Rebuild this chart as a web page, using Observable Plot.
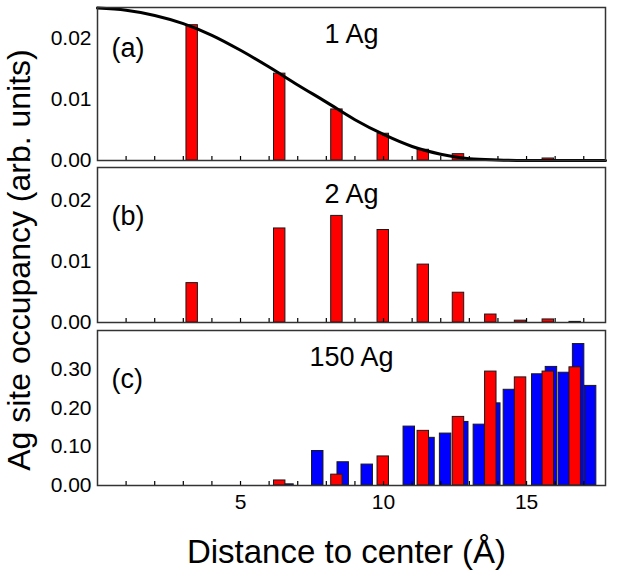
<!DOCTYPE html>
<html><head><meta charset="utf-8">
<script src="https://cdn.jsdelivr.net/npm/d3@7"></script>
<script src="https://cdn.jsdelivr.net/npm/@observablehq/plot@0.6"></script>
<style>
body{margin:0;background:#fff;}
#chart{position:relative;width:623px;height:570px;font-family:"Liberation Sans",Arial,Helvetica,sans-serif;}
#chart svg{position:absolute;left:0;}
</style></head><body><div id="chart"></div>
<script>
// Shell radii (Å) shared by the red bars of all panels
const shellR = [3.31, 6.37, 8.37, 9.99, 11.39, 12.62, 13.75, 14.79, 15.76, 16.70];
// (a) 1 Ag occupancy
const occ1Ag = [0.0222, 0.01425, 0.00838, 0.00439, 0.00176, 0.00104, 0, 0, 0.00033, 0];
// (a) smooth envelope curve
const curveX = [0, 1, 2, 3, 4, 5, 6, 7, 8, 9, 10, 11, 12, 13, 14, 15, 16, 17, 17.76];
const curveY = [0.0250, 0.02465, 0.0238, 0.02246, 0.02054, 0.01808, 0.01533, 0.0124, 0.00958, 0.00669, 0.00427, 0.0023, 0.00104, 0.0003, 0.0001, 0.00002, 0, 0, 0];
// (b) 2 Ag occupancy
const occ2Ag = [0.00643, 0.01535, 0.0174, 0.0151, 0.00945, 0.00486, 0.0013, 0.0003, 0.0005, 0.0001];
// (c) 150 Ag occupancy, red series on shellR
const occ150Red = [0, 0.013, 0.028, 0.075, 0.141, 0.177, 0.294, 0.279, 0.294, 0.305];
// (c) 150 Ag occupancy, blue series
const blueR = [6.66, 7.70, 8.59, 9.43, 10.90, 11.59, 12.17, 12.77, 13.35, 13.89, 14.40, 15.39, 15.87, 16.32, 16.82, 17.24];
const occ150Blue = [0.003, 0.089, 0.060, 0.054, 0.152, 0.123, 0.134, 0.164, 0.157, 0.212, 0.247, 0.287, 0.306, 0.291, 0.365, 0.257];
// tick values
const xMinorTicks = d3.range(1, 18);
const xLabelTicks = [5, 10, 15];
const yTicksSmall = [0, 0.01, 0.02];
const yTicksLarge = [0, 0.1, 0.2, 0.3];
const panelNames = ["1 Ag", "2 Ag", "150 Ag"];
const panelTags = ["(a)", "(b)", "(c)"];
const xTitle = "Distance to center (Å)";
const yTitle = "Ag site occupancy (arb. units)";

const font = '"Liberation Sans", Arial, Helvetica, sans-serif';
const W = 623, ML = 97, MR = 18, xDomain = [0, 17.76], HALF = 0.2;

const toRows = (xs, vs) => xs.map((x, i) => ({x, v: vs[i]})).filter(d => d.v > 0);
const bars = (rows, fill) => Plot.rect(rows, {
  x1: d => d.x - HALF, x2: d => d.x + HALF, y1: 0, y2: "v",
  fill, stroke: "#1a1a1a", strokeWidth: 1
});

const chart = document.getElementById("chart");

function panel({top, height, mt, mb, yMax, yTicks, marks, name, tag, tagDy, xLabels}) {
  const p = Plot.plot({
    width: W, height, marginLeft: ML, marginRight: MR, marginTop: mt, marginBottom: mb,
    style: {background: "transparent", fontFamily: font, overflow: "visible", color: "#000"},
    x: {domain: xDomain},
    y: {domain: [0, yMax]},
    marks: [
      ...marks,
      Plot.axisY({ticks: yTicks, tickSize: 0, tickPadding: 6, tickFormat: d3.format(".2f"), fontSize: 21, label: null}),
      Plot.axisX({ticks: xMinorTicks, tickSize: -4, tickFormat: () => "", label: null, strokeWidth: 1.2}),
      xLabels ? Plot.axisX({ticks: xLabelTicks, tickSize: 0, tickPadding: 9, fontSize: 21, label: null}) : null,
      Plot.frame({stroke: "#333", strokeWidth: 1.5}),
      Plot.text([name], {frameAnchor: "top", lineAnchor: "bottom", dy: 35, fontSize: 27}),
      Plot.text([tag], {frameAnchor: "top-left", lineAnchor: "top", textAnchor: "start", dx: 14, dy: tagDy, fontSize: 27}),
      xLabels ? Plot.text([xTitle], {frameAnchor: "bottom", lineAnchor: "bottom", dy: 77, dx: -5, fontSize: 33}) : null
    ]
  });
  p.style.top = top + "px";
  chart.appendChild(p);
}

panel({
  top: 0, height: 163, mt: 7, mb: 3, yMax: 0.0251, yTicks: yTicksSmall,
  name: panelNames[0], tag: panelTags[0], tagDy: 30,
  marks: [
    bars(toRows(shellR, occ1Ag), "#ff0000"),
    Plot.line(curveX.map((x, i) => ({x, y: curveY[i]})), {x: "x", y: "y", stroke: "#000", strokeWidth: 3, curve: "monotone-x"})
  ]
});
panel({
  top: 163, height: 162, mt: 4, mb: 3, yMax: 0.0253, yTicks: yTicksSmall,
  name: panelNames[1], tag: panelTags[1], tagDy: 38,
  marks: [bars(toRows(shellR, occ2Ag), "#ff0000")]
});
panel({
  top: 325, height: 245, mt: 5, mb: 85, yMax: 0.40, yTicks: yTicksLarge,
  name: panelNames[2], tag: panelTags[2], tagDy: 38, xLabels: true,
  marks: [
    bars(toRows(blueR, occ150Blue), "#0000ff"),
    bars(toRows(shellR, occ150Red), "#ff0000")
  ]
});

// rotated y-axis title
const ov = d3.create("svg").attr("width", W).attr("height", 570)
  .style("top", "0px").style("overflow", "visible").style("pointer-events", "none");
ov.append("text")
  .attr("transform", "translate(30,260) rotate(-90)")
  .attr("text-anchor", "middle")
  .attr("font-family", font).attr("font-size", 32).attr("fill", "#000")
  .text(yTitle);
chart.appendChild(ov.node());
</script></body></html>
